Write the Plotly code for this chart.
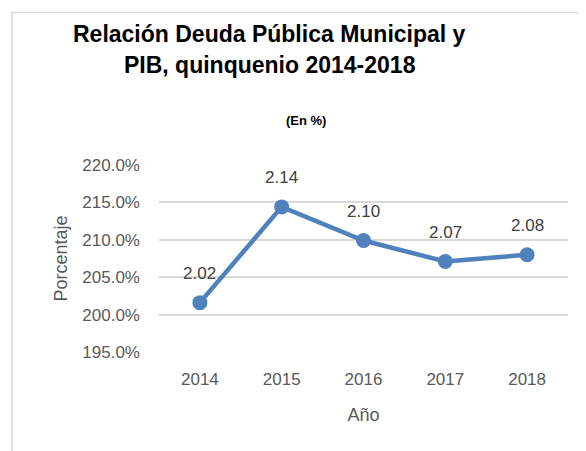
import plotly.graph_objects as go

years = ["2014", "2015", "2016", "2017", "2018"]
values = [201.6, 214.4, 209.9, 207.1, 208.0]
labels = ["2.02", "2.14", "2.10", "2.07", "2.08"]

FONT = "Liberation Sans, Arial, sans-serif"

# page body has an 8px default margin; work in page pixel coords
OFF = 8
W, H = 586 - OFF, 451 - OFF
PL, PR, PT, PB = 159, 568, 165, 352.5  # plot area in page coords
L = PL - OFF
T = PT - OFF
R = W - (PR - OFF)
B = H - (PB - OFF)
pw = PR - PL
ph = PB - PT

def px2paper_x(px):
    return (px - PL) / pw

def px2paper_y(py):
    return (PB - py) / ph

fig = go.Figure()
fig.add_trace(go.Scatter(
    x=years, y=values, mode="lines+markers",
    line=dict(color="#4F81BD", width=4.5),
    marker=dict(color="#4F81BD", size=15),
    cliponaxis=False, showlegend=False,
))

annotations = [
    dict(x=i, y=v, text=lab, xref="x", yref="y", showarrow=False,
         yshift=29, font=dict(family=FONT, size=17, color="#404040"))
    for i, (v, lab) in enumerate(zip(values, labels))
]
annotations += [
    dict(text="<b>Relación Deuda Pública Municipal y</b>", xref="paper", yref="paper",
         x=px2paper_x(269), y=px2paper_y(34), xanchor="center", yanchor="middle",
         showarrow=False, font=dict(family=FONT, size=23, color="#000000")),
    dict(text="<b>PIB, quinquenio 2014-2018</b>", xref="paper", yref="paper",
         x=px2paper_x(270), y=px2paper_y(65), xanchor="center", yanchor="middle",
         showarrow=False, font=dict(family=FONT, size=23, color="#000000")),
    dict(text="<b>(En %)</b>", xref="paper", yref="paper",
         x=px2paper_x(306), y=px2paper_y(120), xanchor="center", yanchor="middle",
         showarrow=False, font=dict(family=FONT, size=13, color="#000000")),
]

fig.update_layout(
    width=W, height=H,
    margin=dict(l=L, r=R, t=T, b=B, autoexpand=False),
    paper_bgcolor="white", plot_bgcolor="white",
    font=dict(family=FONT, color="#595959"),
    xaxis=dict(type="category", range=[-0.5, 4.5], showgrid=False, showline=False,
               ticks="", ticklabelstandoff=15, automargin=False,
               tickfont=dict(size=17, color="#595959"),
               title=dict(text="Año", font=dict(size=18, color="#595959"), standoff=20)),
    yaxis=dict(range=[195, 220], dtick=5, tickformat=".1f", ticksuffix="%",
               showgrid=True, gridcolor="#d9d9d9", gridwidth=1.5, zeroline=False,
               showline=False, ticks="", ticklabelstandoff=18, automargin=False,
               tickfont=dict(size=17, color="#595959"),
               title=dict(text="Porcentaje", font=dict(size=18, color="#595959"), standoff=10)),
    shapes=[dict(type="rect", xref="paper", yref="paper",
                 x0=px2paper_x(12), x1=px2paper_x(620),
                 y0=px2paper_y(480), y1=px2paper_y(12),
                 line=dict(color="#d9d9d9", width=1.5), fillcolor="rgba(0,0,0,0)",
                 layer="below")],
    annotations=annotations,
)

fig.write_html("out.html")
